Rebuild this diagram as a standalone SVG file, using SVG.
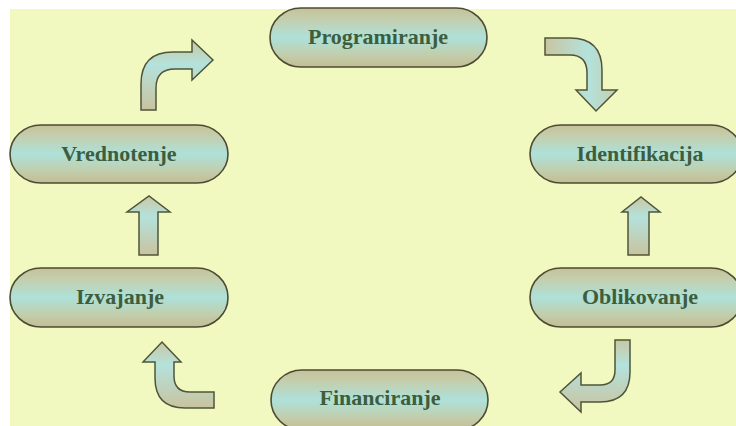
<svg xmlns="http://www.w3.org/2000/svg" width="736" height="426" viewBox="0 0 736 426">
<defs>
<linearGradient id="pill" x1="0" y1="0" x2="0" y2="1">
<stop offset="0" stop-color="#c6c29a"/>
<stop offset="0.2" stop-color="#c3cfae"/>
<stop offset="0.5" stop-color="#aee1da"/>
<stop offset="0.8" stop-color="#c2cdaa"/>
<stop offset="1" stop-color="#c4bd92"/>
</linearGradient>
<linearGradient id="arrV" x1="0" y1="0" x2="0" y2="1">
<stop offset="0" stop-color="#c9c8a4"/>
<stop offset="0.35" stop-color="#b4e2dc"/>
<stop offset="1" stop-color="#c9c39e"/>
</linearGradient>
<linearGradient id="arrH" x1="0" y1="0" x2="1" y2="0">
<stop offset="0" stop-color="#c9c5a0"/>
<stop offset="0.6" stop-color="#b4e2dc"/>
<stop offset="1" stop-color="#c6cfae"/>
</linearGradient>
<style>
.pill{fill:url(#pill);stroke:#4b4b32;stroke-width:1.6}
.lbl{font-family:"Liberation Serif","Times New Roman",serif;font-weight:bold;font-size:22px;fill:#3e5d3c;text-anchor:middle}
.arr{stroke:#4f5539;stroke-width:1.5;stroke-linejoin:miter}
</style>
</defs>
<rect x="0" y="0" width="736" height="426" fill="#ffffff"/>
<rect x="10" y="9" width="726" height="417" fill="#f1f9c0"/>

<g id="connectors">
<path class="arr" fill="url(#arrV)" d="M141,110 L141,84 Q141,52 173,52 L192,52 L192,40 L213,60 L192,80 L192,69 L175,69 Q156,69 156,88 L156,110 Z"/>
<path class="arr" fill="url(#arrH)" d="M545,38 L570,38 Q602,38 602,70 L602,90 L617,90 L596,111 L576,90 L587,90 L587,73 Q587,55 570,55 L545,55 Z"/>
<path class="arr" fill="url(#arrV)" d="M628,255 L628,212 L622,212 L641,197 L660,212 L649,212 L649,255 Z"/>
<path class="arr" fill="url(#arrV)" d="M630,340 L630,372 Q630,402 600,402 L581,402 L581,412 L560,392 L581,373 L581,385 L600,385 Q615,385 615,370 L615,340 Z"/>
<path class="arr" fill="url(#arrV)" d="M214,392 L190,392 Q174,392 174,376 L174,362 L181,362 L162,342 L143,362 L155,362 L155,378 Q155,408 185,408 L214,408 Z"/>
<path class="arr" fill="url(#arrV)" d="M139,255 L139,212 L127,212 L149,196 L170,212 L158,212 L158,255 Z"/>
</g>

<g id="programiranje">
<rect class="pill" x="270" y="8" width="217" height="59" rx="31" ry="29.5"/>
<text class="lbl" x="378" y="44">Programiranje</text>
</g>
<g id="identifikacija">
<rect class="pill" x="530" y="125" width="212" height="58" rx="31" ry="29"/>
<text class="lbl" x="640" y="161">Identifikacija</text>
</g>
<g id="oblikovanje">
<rect class="pill" x="530" y="268" width="212" height="59" rx="31" ry="29.5"/>
<text class="lbl" x="640" y="304">Oblikovanje</text>
</g>
<g id="financiranje">
<rect class="pill" x="271" y="370" width="217" height="60" rx="31" ry="30"/>
<text class="lbl" x="380" y="405">Financiranje</text>
</g>
<g id="izvajanje">
<rect class="pill" x="10" y="268" width="218" height="59" rx="31" ry="29.5"/>
<text class="lbl" x="120" y="304">Izvajanje</text>
</g>
<g id="vrednotenje">
<rect class="pill" x="10" y="125" width="218" height="58" rx="31" ry="29"/>
<text class="lbl" x="119" y="161">Vrednotenje</text>
</g>
</svg>
